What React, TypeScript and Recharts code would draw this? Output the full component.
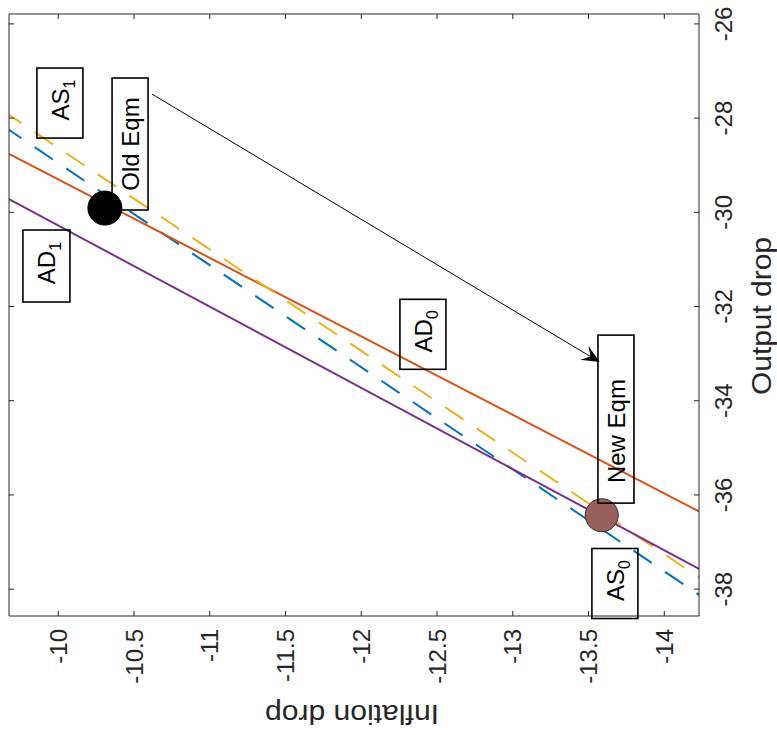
import React from "react";
import {
  ComposedChart,
  Line,
  XAxis,
  YAxis,
  ReferenceDot,
  ReferenceLine,
} from "recharts";

// inflation drop at the two edges of the axes
const inflationEnds = [-9.675, -14.229];

// output drop at those two edges, per curve
const as0 = [-28.25, -38.12];
const ad0 = [-28.76, -36.35];
const as1 = [-27.93, -37.75];
const ad1 = [-29.72, -37.57];

const xTicks = [-10, -10.5, -11, -11.5, -12, -12.5, -13, -13.5, -14];
const yTicks = [-26, -28, -30, -32, -34, -36, -38];
const xDomain = [-14.229, -9.675];
const yDomain = [-38.57, -25.79];

const oldEqm = { x: -10.308, y: -29.91 };
const newEqm = { x: -13.587, y: -36.43 };

const arrowFrom = { x: -10.619, y: -27.49 };
const arrowTo = { x: -13.574, y: -33.18 };

const annotations = [
  { id: "as1", text: "AS", sub: "1", x: -10.011, y: -27.68 },
  { id: "old", text: "Old Eqm", sub: "", x: -10.474, y: -28.55 },
  { id: "ad1", text: "AD", sub: "1", x: -9.922, y: -31.14 },
  { id: "ad0", text: "AD", sub: "0", x: -12.407, y: -32.59 },
  { id: "new", text: "New Eqm", sub: "", x: -13.681, y: -34.39 },
  { id: "as0", text: "AS", sub: "0", x: -13.674, y: -37.88 },
];

const toSeries = (vals: number[]) =>
  inflationEnds.map((x, i) => ({ x, y: vals[i] }));

const AXIS = "#262626";
const FONT = "'Liberation Sans', Arial, Helvetica, sans-serif";

const boxStyle: Record<string, { w: number; h: number; dy: number }> = {
  as1: { w: 46, h: 70, dy: -3 },
  old: { w: 36, h: 132, dy: 0 },
  ad1: { w: 47, h: 72, dy: -3 },
  ad0: { w: 46, h: 70, dy: -3 },
  new: { w: 36, h: 168, dy: 12 },
  as0: { w: 46, h: 70, dy: -3 },
};

const BottomTick = (props: any) => {
  const { x, y, payload } = props;
  const ty = y + 13;
  return (
    <g>
      <line x1={x} y1={y} x2={x} y2={y - 5} stroke={AXIS} strokeWidth={1} />
      <text
        x={x}
        y={ty}
        transform={`rotate(-90 ${x} ${ty})`}
        textAnchor="end"
        dominantBaseline="central"
        fontSize={24}
        fontFamily={FONT}
        fill={AXIS}
      >
        {payload.value}
      </text>
    </g>
  );
};

const TopTick = (props: any) => {
  const { x, y } = props;
  return <line x1={x} y1={y} x2={x} y2={y + 5} stroke={AXIS} strokeWidth={1} />;
};

const RightTick = (props: any) => {
  const { x, y, payload } = props;
  const tx = x + 25;
  return (
    <g>
      <line x1={x} y1={y} x2={x - 5} y2={y} stroke={AXIS} strokeWidth={1} />
      <text
        x={tx}
        y={y}
        transform={`rotate(-90 ${tx} ${y})`}
        textAnchor="middle"
        dominantBaseline="central"
        fontSize={24}
        fontFamily={FONT}
        fill={AXIS}
      >
        {payload.value}
      </text>
    </g>
  );
};

const LeftTick = (props: any) => {
  const { x, y } = props;
  return <line x1={x} y1={y} x2={x + 5} y2={y} stroke={AXIS} strokeWidth={1} />;
};

const Arrow = (props: any) => {
  const { x1, y1, x2, y2 } = props;
  const dx = x2 - x1;
  const dy = y2 - y1;
  const len = Math.sqrt(dx * dx + dy * dy);
  const ux = dx / len;
  const uy = dy / len;
  const L = 18;
  const W = 8;
  const bx = x2 - ux * L;
  const by = y2 - uy * L;
  const nx = x2 - ux * L * 0.6;
  const ny = y2 - uy * L * 0.6;
  const pts = [
    [x2, y2],
    [bx - uy * W, by + ux * W],
    [nx, ny],
    [bx + uy * W, by - ux * W],
  ]
    .map((p) => p.join(","))
    .join(" ");
  return (
    <g>
      <line x1={x1} y1={y1} x2={nx} y2={ny} stroke="#000" strokeWidth={1} />
      <polygon points={pts} fill="#000" />
    </g>
  );
};

const makeBox = (a: (typeof annotations)[number]) => (props: any) => {
  const { cx, cy } = props;
  const s = boxStyle[a.id];
  const ty = cy + s.dy;
  return (
    <g>
      <rect
        x={cx - s.w / 2}
        y={cy - s.h / 2}
        width={s.w}
        height={s.h}
        fill="none"
        stroke="#000"
        strokeWidth={1.6}
      />
      <text
        x={cx}
        y={ty}
        transform={`rotate(-90 ${cx} ${ty})`}
        textAnchor="middle"
        dominantBaseline="central"
        fontSize={24}
        fontFamily={FONT}
        fill="#000"
      >
        <tspan>{a.text}</tspan>
        {a.sub ? (
          <tspan dy={9} fontSize={16}>
            {a.sub}
          </tspan>
        ) : null}
      </text>
    </g>
  );
};

const lines = [
  { key: "AS0", vals: as0, color: "#0072BD", dash: true },
  { key: "AD0", vals: ad0, color: "#D95319", dash: false },
  { key: "AS1", vals: as1, color: "#EDB120", dash: true },
  { key: "AD1", vals: ad1, color: "#7E2F8E", dash: false },
];

export default function App() {
  return (
    <div
      style={{
        position: "absolute",
        left: 0,
        top: 0,
        width: 777,
        height: 735,
        background: "#fff",
      }}
    >
      <ComposedChart
        width={777}
        height={735}
        margin={{ top: 13, right: 0, bottom: 0, left: 8 }}
      >
        <XAxis
          xAxisId="b"
          type="number"
          dataKey="x"
          domain={xDomain}
          reversed
          allowDataOverflow
          ticks={xTicks}
          interval={0}
          height={119}
          tickSize={0}
          tickMargin={0}
          tickLine={false}
          axisLine={{ stroke: AXIS, strokeWidth: 1 }}
          tick={<BottomTick />}
          label={(p: any) => {
            const vb = p.viewBox;
            const cx = 352;
            const cy = vb.y + 98;
            return (
              <text
                x={cx}
                y={cy}
                transform={`rotate(180 ${cx} ${cy})`}
                textAnchor="middle"
                dominantBaseline="central"
                fontSize={27}
                textLength={174}
                lengthAdjust="spacingAndGlyphs"
                fontFamily={FONT}
                fill={AXIS}
              >
                Inflation drop
              </text>
            );
          }}
        />
        <XAxis
          xAxisId="t"
          orientation="top"
          type="number"
          dataKey="x"
          domain={xDomain}
          reversed
          allowDataOverflow
          ticks={xTicks}
          interval={0}
          height={1}
          tickSize={0}
          tickMargin={0}
          tickLine={false}
          axisLine={{ stroke: AXIS, strokeWidth: 1 }}
          tick={<TopTick />}
        />
        <YAxis
          yAxisId="r"
          orientation="right"
          type="number"
          domain={yDomain}
          allowDataOverflow
          ticks={yTicks}
          interval={0}
          width={78}
          tickSize={0}
          tickMargin={0}
          tickLine={false}
          axisLine={{ stroke: AXIS, strokeWidth: 1 }}
          tick={<RightTick />}
          label={(p: any) => {
            const vb = p.viewBox;
            const cx = vb.x + 63;
            const cy = 316;
            return (
              <text
                x={cx}
                y={cy}
                transform={`rotate(-90 ${cx} ${cy})`}
                textAnchor="middle"
                dominantBaseline="central"
                fontSize={27}
                textLength={158}
                lengthAdjust="spacingAndGlyphs"
                fontFamily={FONT}
                fill={AXIS}
              >
                Output drop
              </text>
            );
          }}
        />
        <YAxis
          yAxisId="l"
          orientation="left"
          type="number"
          domain={yDomain}
          allowDataOverflow
          ticks={yTicks}
          interval={0}
          width={1}
          tickSize={0}
          tickMargin={0}
          tickLine={false}
          axisLine={{ stroke: AXIS, strokeWidth: 1 }}
          tick={<LeftTick />}
        />
        {lines.map((l) => (
          <Line
            key={l.key}
            xAxisId="b"
            yAxisId="r"
            data={toSeries(l.vals)}
            dataKey="y"
            stroke={l.color}
            strokeWidth={2}
            strokeDasharray={l.dash ? "22 16" : undefined}
            strokeDashoffset={l.dash ? 7 : undefined}
            dot={false}
            activeDot={false}
            isAnimationActive={false}
          />
        ))}
        <ReferenceDot
          xAxisId="b"
          yAxisId="r"
          x={oldEqm.x}
          y={oldEqm.y}
          r={17}
          fill="#000"
          stroke="#000"
          ifOverflow="visible"
        />
        <ReferenceDot
          xAxisId="b"
          yAxisId="r"
          x={newEqm.x}
          y={newEqm.y}
          r={16.5}
          fill="#9a605c"
          stroke="#3a2a2a"
          strokeWidth={1}
          ifOverflow="visible"
        />
        <ReferenceLine
          xAxisId="b"
          yAxisId="r"
          segment={[arrowFrom, arrowTo]}
          shape={<Arrow />}
          ifOverflow="visible"
        />
        {annotations.map((a) => (
          <ReferenceDot
            key={a.id}
            xAxisId="b"
            yAxisId="r"
            x={a.x}
            y={a.y}
            r={1}
            shape={makeBox(a)}
            ifOverflow="visible"
          />
        ))}
      </ComposedChart>
    </div>
  );
}
